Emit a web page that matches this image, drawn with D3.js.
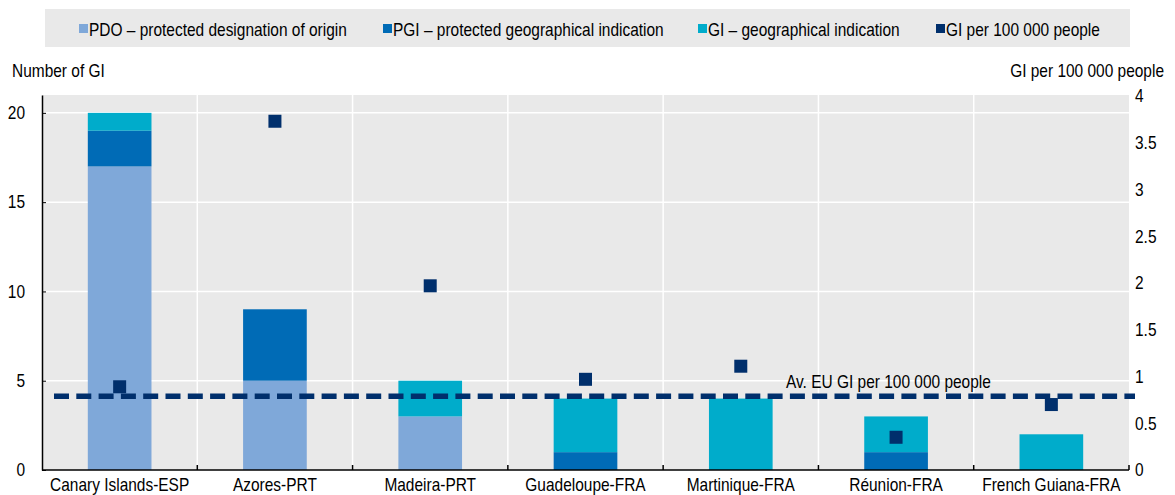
<!DOCTYPE html>
<html><head><meta charset="utf-8">
<script src="https://cdn.jsdelivr.net/npm/d3@7"></script>
<style>
body{margin:0;background:#fff;}
svg text{font-family:"Liberation Sans",Arial,sans-serif;font-size:18px;fill:#000;}
</style></head><body>
<svg id="c" width="1175" height="495"></svg>
<script>
const categories = ["Canary Islands-ESP","Azores-PRT","Madeira-PRT","Guadeloupe-FRA","Martinique-FRA","Réunion-FRA","French Guiana-FRA"];
const pdo = [17,5,3,0,0,0,0];
const pgi = [2,4,0,1,0,1,0];
const gi  = [1,0,2,3,4,2,2];
const giPer100k = [0.89,3.73,1.97,0.97,1.11,0.35,0.70];
const euAverage = 0.79;
const leftTicks = [0,5,10,15,20];
const rightTicks = [0,0.5,1,1.5,2,2.5,3,3.5,4];
const seriesNames = ["PDO – protected designation of origin","PGI – protected geographical indication","GI – geographical indication","GI per 100 000 people"];
const colors = ["#7FA8D9","#006BB6","#00ACCB","#002F6C"];

const svg = d3.select("#c");
const L=42,R=1129,T=95,B=470;
const x = d3.scaleBand().domain(categories).range([L,R]).paddingInner(0).paddingOuter(0);
const y = d3.scaleLinear().domain([0,21]).range([B,T]);
const y2 = d3.scaleLinear().domain([0,4]).range([B,T+1]);

// legend
svg.append("rect").attr("x",45).attr("y",9).attr("width",1085).attr("height",38).attr("fill","#E9E9E9");
const legX=[79,383,698,936];
seriesNames.forEach((n,i)=>{
  svg.append("rect").attr("x",legX[i]).attr("y",24).attr("width",9).attr("height",9).attr("fill",colors[i]);
  svg.append("text").attr("x",legX[i]+10).attr("y",36).text(n);
});

// plot bg
svg.append("rect").attr("x",L).attr("y",T).attr("width",R-L).attr("height",B-T).attr("fill","#E9E9E9");
// grid
svg.append("g").selectAll("line").data(leftTicks.filter(d=>d>0)).join("line")
  .attr("x1",L).attr("x2",R).attr("y1",d=>y(d)).attr("y2",d=>y(d)).attr("stroke","#fff").attr("stroke-width",1.5);
svg.append("g").selectAll("line").data(categories.slice(1)).join("line")
  .attr("x1",d=>x(d)).attr("x2",d=>x(d)).attr("y1",T).attr("y2",B).attr("stroke","#fff").attr("stroke-width",1.5);

// stacked bars
const rows = categories.map((c,i)=>({cat:c,pdo:pdo[i],pgi:pgi[i],gi:gi[i]}));
const stack = d3.stack().keys(["pdo","pgi","gi"])(rows);
const bw = x.bandwidth()*0.41;
svg.append("g").selectAll("g").data(stack).join("g").attr("fill",(d,i)=>colors[i])
  .selectAll("rect").data(d=>d.filter(v=>v[1]>v[0])).join("rect")
  .attr("x",d=>x(d.data.cat)+x.bandwidth()/2-bw/2).attr("width",bw)
  .attr("y",d=>y(d[1])).attr("height",d=>y(d[0])-y(d[1]));

// EU average line
svg.append("line").attr("x1",54).attr("x2",1135).attr("y1",y2(euAverage)).attr("y2",y2(euAverage))
  .attr("stroke","#002F6C").attr("stroke-width",5.5).attr("stroke-dasharray","15,7.3");
svg.append("text").attr("x",786).attr("y",388).text("Av. EU GI per 100 000 people");

// markers
const ms=13;
svg.append("g").selectAll("rect").data(giPer100k).join("rect")
  .attr("x",(d,i)=>x(categories[i])+x.bandwidth()/2-ms/2).attr("y",d=>y2(d)-ms/2)
  .attr("width",ms).attr("height",ms).attr("fill","#002F6C");

// axes
const gl = svg.append("g").attr("transform",`translate(${L},0)`)
  .call(d3.axisLeft(y).tickValues(leftTicks).tickSize(-4).tickPadding(17).tickSizeOuter(0));
gl.select(".domain").attr("stroke","#000").attr("stroke-width",1.5);
gl.selectAll(".tick line").attr("stroke","#000");
const gr = svg.append("g").attr("transform",`translate(${R},0)`)
  .call(d3.axisRight(y2).tickValues(rightTicks).tickSize(0).tickPadding(6).tickFormat(d3.format("")));
gr.select(".domain").remove();
const gb = svg.append("g").attr("transform",`translate(0,${B})`)
  .call(d3.axisBottom(x).tickSize(0).tickPadding(8));
gb.select(".domain").attr("d",`M${L},0H${R}`).attr("stroke","#000").attr("stroke-width",1.5);
svg.append("g").selectAll("line").data(categories.slice(1).map(c=>x(c)).concat([R])).join("line")
  .attr("x1",d=>d).attr("x2",d=>d).attr("y1",B).attr("y2",B-5).attr("stroke","#000").attr("stroke-width",1.5);
svg.selectAll(".tick text").style("font-family",'"Liberation Sans",Arial,sans-serif').style("font-size","18px").attr("fill","#000");

svg.append("text").attr("x",12).attr("y",77).text("Number of GI");
svg.append("text").attr("x",1164).attr("y",77).attr("text-anchor","end").text("GI per 100 000 people");

// narrow the glyphs to mimic a condensed typeface (horizontal scale about each text's anchor x)
const squeeze = 0.86;
svg.selectAll("text").each(function(){
  const ax = +(this.getAttribute("x") || 0);
  d3.select(this).attr("transform",`translate(${ax},0) scale(${squeeze},1) translate(${-ax},0)`);
});
</script></body></html>
